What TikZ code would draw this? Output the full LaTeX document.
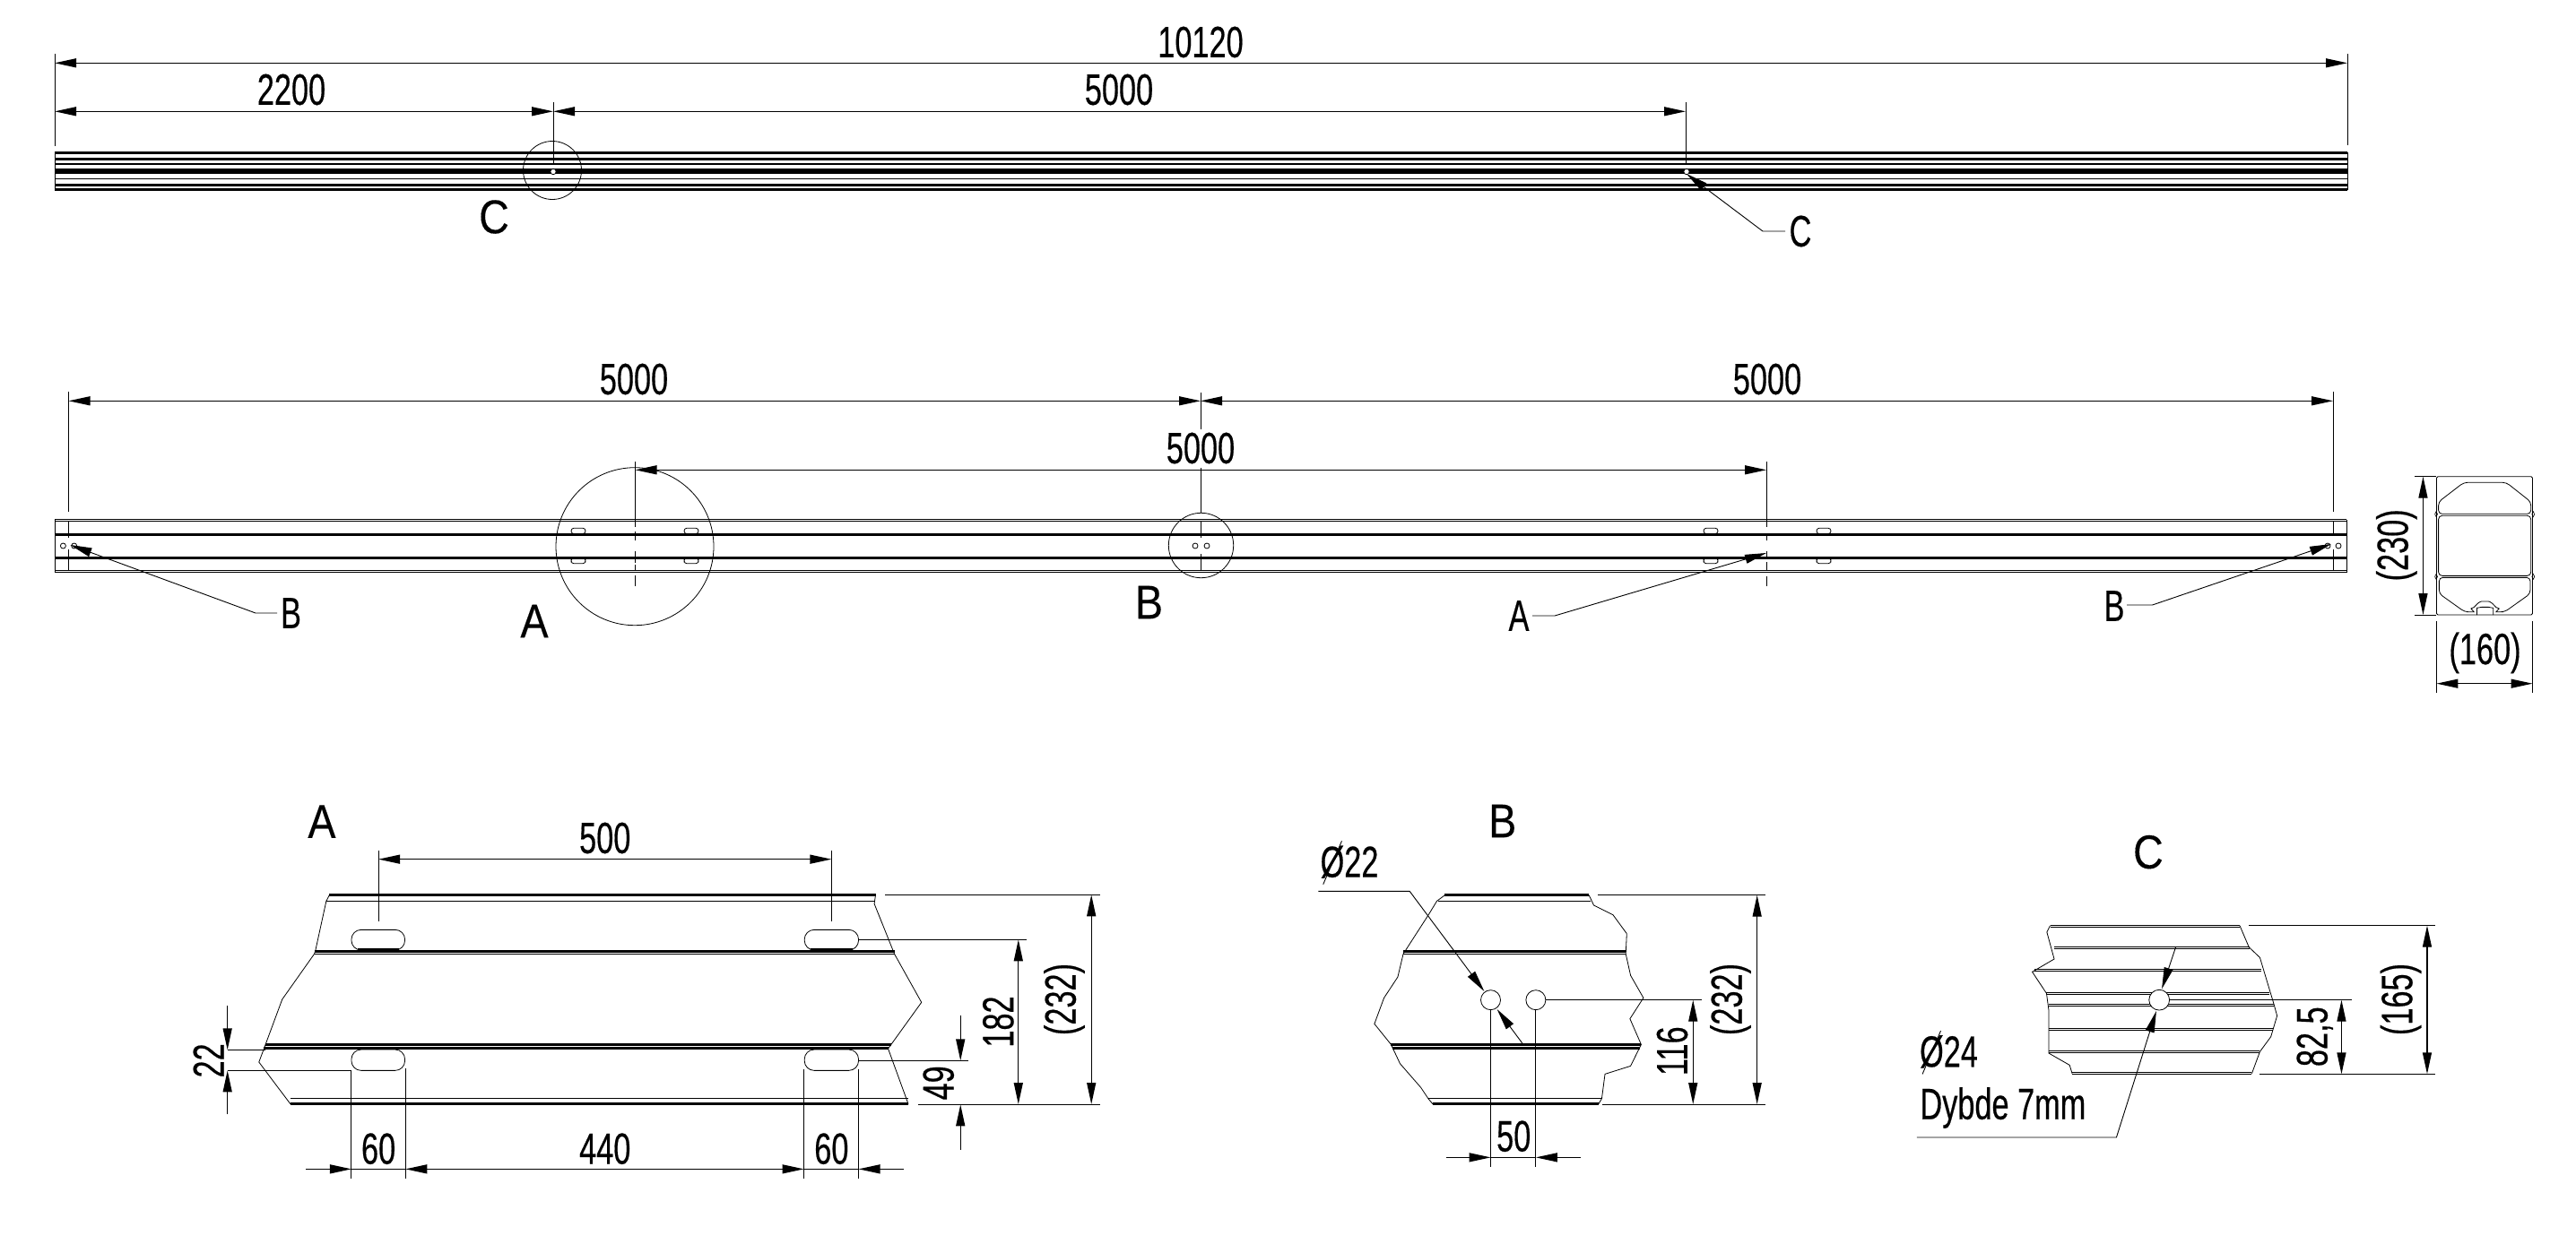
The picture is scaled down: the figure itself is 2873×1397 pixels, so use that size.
\documentclass[tikz,border=0pt]{standalone}
\usepackage{fontspec}
\usetikzlibrary{arrows.meta}
\setmainfont{Liberation Sans}
\newfontfamily\dimf[FakeStretch=0.70,FakeBold=0.35]{Liberation Sans}
\newfontfamily\bigf[FakeStretch=0.88,FakeBold=0.2]{Liberation Sans}
\tikzset{
  >={Triangle[length=12pt,width=5pt]},
  dimln/.style={line width=.65pt},
  extln/.style={line width=.45pt},
  outln/.style={line width=.4pt},
  thickln/.style={line width=1.5pt},
  midln/.style={line width=.7pt},
  dimtxt/.style={font=\dimf\fontsize{24.5}{26}\selectfont,inner sep=0pt,text=black},
  vtxt/.style={dimtxt,rotate=90},
  bigtxt/.style={font=\bigf\fontsize{26.5}{28}\selectfont,inner sep=0pt,text=black},
  holeb/.style={line width=.4pt,fill=white,draw=black},
}
\begin{document}
\begin{tikzpicture}[x=.5pt,y=-.5pt]
\useasboundingbox[fill=white] (0,0) rectangle (2873,1397);
% ---------- top view
\foreach \yy/\ww in {170.7/1.5,177/1.5,183/.6,189.7/1.5,192.7/1.5,199.3/.6,206/1.5,211.7/1.5}
  \draw[line width=\ww pt] (61,\yy) -- (2618,\yy);
\draw[outln] (61,170) -- (61,212) (2618,170) -- (2618,212);
\draw[extln] (61,60) -- (61,163) (2618,60) -- (2618,162);
\draw[dimln,<->] (61,70.3) -- (2618,70.3);
\node[dimtxt] (t10120) at (1339,47) {10120};
\draw[dimln,<->] (61,124.3) -- (617,124.3);
\draw[dimln,<->] (617,124.3) -- (1880,124.3);
\draw[extln] (617,114) -- (617,182) (1880,114) -- (1880,182);
\node[dimtxt] (t2200) at (325,100) {2200};
\node[dimtxt] (t5000a) at (1248,100) {5000};
\draw[outln] (616,190) circle[radius=16.25pt];
\draw[holeb] (617,191.5) circle[radius=1.6pt];
\draw[holeb] (1881,191.5) circle[radius=1.6pt];
\node[bigtxt] (bigC1) at (551,242) {C};
\coordinate (lc1) at (1881,194);
\coordinate (lc2) at (1966,258);
\coordinate (lc3) at (1991,258);
\draw[extln,<-] (lc1) -- (lc2) -- (lc3);
\node[dimtxt] (lblC) at (2008,258) {C};
% ---------- middle view
\foreach \yy/\ww in {579.7/.6,581.6/.6,596/1.5,622/1.5,636.3/.6,638.3/.6}
  \draw[line width=\ww pt] (61,\yy) -- (2617,\yy);
\draw[outln] (61,579.5) -- (61,638.5) (2617,579.5) -- (2617,638.5);
% centre lines
\draw[extln] (76.5,437) -- (76.5,571) (76.5,582) -- (76.5,600) (76.5,613) -- (76.5,636);
\draw[extln] (2602,437) -- (2602,571) (2602,582) -- (2602,597) (2602,613) -- (2602,636);
\draw[extln] (708.5,515) -- (708.5,588) (708.5,593) -- (708.5,603) (708.5,615) -- (708.5,628) (708.5,630) -- (708.5,637) (708.5,642) -- (708.5,654);
\draw[extln] (1970,515) -- (1970,588) (1970,597) -- (1970,603) (1970,615) -- (1970,622) (1970,627) -- (1970,637) (1970,643) -- (1970,654);
\draw[extln] (1339,438) -- (1339,479) (1339,522) -- (1339,572) (1339,582) -- (1339,600) (1339,618) -- (1339,637);
\draw[dimln,<->] (76.5,447.3) -- (1339,447.3);
\draw[dimln,<->] (1339,447.3) -- (2602,447.3);
\draw[dimln,<->] (708.5,524.3) -- (1970,524.3);
\node[dimtxt] (t5000b) at (707,423) {5000};
\node[dimtxt] (t5000c) at (1971,423) {5000};
\node[dimtxt] (t5000d) at (1339,500) {5000};
\draw[outln] (708,609.7) circle[radius=44pt];
\draw[outln] (1339.5,608.5) circle[radius=18.1pt];
\foreach \xx in {645,771,1908,2034}{
  \draw[outln,rounded corners=1.55pt] (\xx-8,589.2) rectangle (\xx+8,595.6);
  \draw[outln,rounded corners=1.55pt] (\xx-8,622.6) rectangle (\xx+8,628.8);
}
\foreach \xx in {70.4,82.7,1333,1346,2596,2608}
  \draw[outln] (\xx,609) circle[radius=1.5pt];
\coordinate (lb1) at (78.4,608);
\coordinate (lb2) at (285,684);
\coordinate (lb3) at (309,684);
\draw[extln,<-] (lb1) -- (lb2) -- (lb3);
\node[dimtxt] (lblB1) at (324.5,684) {B};
\coordinate (la1) at (1970,617);
\coordinate (la2) at (1734,687);
\coordinate (la3) at (1709,687);
\draw[extln,<-] (la1) -- (la2) -- (la3);
\node[dimtxt] (lblA) at (1694,687) {A};
\coordinate (lr1) at (2600,607);
\coordinate (lr2) at (2400.5,675);
\coordinate (lr3) at (2372,675);
\draw[extln,<-] (lr1) -- (lr2) -- (lr3);
\node[dimtxt] (lblB2) at (2358,676) {B};
\node[bigtxt] (bigA1) at (596,693) {A};
\node[bigtxt] (bigB1) at (1281.5,672) {B};
% ---------- section profile (zoom coordinates)
\begin{scope}[shift={(2300,400)},x=.18275pt,y=-.16667pt]
  \draw[outln,rounded corners=.8pt] (1142,395) rectangle (1435,858);
  \draw[outln,rounded corners=2pt] (1148,520) -- (1148,480) -- (1225,415) -- (1355,415) -- (1430,480) -- (1430,520) -- cycle;
  \draw[outln,rounded corners=2pt] (1148,526) rectangle (1430,727);
  \draw[outln,rounded corners=2pt] (1150,733) -- (1150,787) -- (1228,848) -- (1245,848) to[out=0,in=190] (1258,835) to[out=60,in=180] (1290,813) to[out=0,in=120] (1322,835) to[out=-10,in=180] (1335,848) -- (1350,848) -- (1428,787) -- (1428,733) -- cycle;
  \draw[outln] (1265,858) -- (1265,835) -- (1280,832) -- (1300,832) -- (1315,835) -- (1315,858);
  \foreach \xx/\yy in {1141/521,1437/521,1141/730,1437/730}
    \draw[line width=.3pt] (\xx-4,\yy) -- (\xx,\yy-9) -- (\xx+4,\yy) -- (\xx,\yy+9) -- cycle;
  \draw[dimln,<->] (1101,395) -- (1101,858);
  \draw[extln] (1075,395) -- (1142,395) (1075,858) -- (1142,858);
  \node[vtxt] (t230) at (1020,625) {(230)};
  \draw[dimln,<->] (1142,1088) -- (1435,1088);
  \draw[extln] (1142,878) -- (1142,1118) (1435,878) -- (1435,1118);
  \node[dimtxt] (t160) at (1290,985) {(160)};
\end{scope}
% ---------- detail A
\begin{scope}[shift={(180,880)},x=.35088pt,y=-.16667pt]
  \node[bigtxt] (bigA2) at (255,110) {A};
  \draw[thickln] (267,356) -- (1135,356);
  \draw[outln] (262,376) -- (1133,376);
  \draw[thickln] (243,543) -- (1165,543);
  \draw[midln] (243,553) -- (1165,553);
  \draw[thickln] (165,856) -- (1160,856);
  \draw[thickln] (163,869) -- (1155,869);
  \draw[outln] (205,1037) -- (1187,1037);
  \draw[thickln] (205,1055) -- (1187,1055);
  \draw[outln] (267,356) -- (262,376) -- (245,540) -- (243,553) -- (192,705) -- (163,870) -- (155,915) -- (205,1055);
  \draw[outln] (1135,356) -- (1133,385) -- (1165,553) -- (1208,715) -- (1155,870) -- (1187,1055);
  \foreach \xx/\xb in {302/387,1022/1108}{
    \draw[outln,rounded corners=5.4pt] (\xx,472) rectangle (\xb,540);
    \draw[outln,rounded corners=5.4pt] (\xx,873) rectangle (\xb,943);
  }
  \draw[thickln] (312,538) -- (378,538) (1032,538) -- (1098,538);
  \draw[dimln,<->] (345,236) -- (1065,236);
  \draw[extln] (345,207) -- (345,443) (1065,207) -- (1065,443);
  \node[dimtxt] (t500) at (705,165) {500};
  \draw[dimln,<->] (1478,355) -- (1478,1056);
  \draw[extln] (1150,355) -- (1492,355) (1202,1057) -- (1492,1057);
  \node[vtxt] (t232a) at (1435,705) {(232)};
  \draw[dimln,<->] (1362,505) -- (1362,1056);
  \draw[extln] (1108,505) -- (1375,505);
  \node[vtxt] (t182) at (1330,780) {182};
  \draw[dimln,->] (1270,758) -- (1270,910);
  \draw[dimln,->] (1270,1208) -- (1270,1057);
  \draw[extln] (1108,910) -- (1283,910);
  \node[vtxt] (t49) at (1235,985) {49};
  \draw[dimln,->] (105,727) -- (105,874);
  \draw[dimln,->] (105,1090) -- (105,943);
  \draw[extln] (105,874) -- (165,874) (105,943) -- (302,943);
  \node[vtxt] (t22) at (75,910) {22};
  \draw[dimln,->] (230,1273) -- (302,1273);
  \draw[dimln] (302,1273) -- (388,1273);
  \draw[dimln,<->] (388,1273) -- (1021,1273);
  \draw[dimln] (1021,1273) -- (1108,1273);
  \draw[dimln,->] (1180,1273) -- (1108,1273);
  \draw[extln] (302,943) -- (302,1305) (388,935) -- (388,1305) (1021,940) -- (1021,1305) (1108,940) -- (1108,1305);
  \node[dimtxt] (t60a) at (345,1205) {60};
  \node[dimtxt] (t440) at (705,1205) {440};
  \node[dimtxt] (t60b) at (1065,1205) {60};
\end{scope}
% ---------- detail B
\begin{scope}[shift={(1440,880)},x=.17857pt,y=-.16667pt]
  \node[bigtxt] (bigB2) at (660,108) {B};
  \draw[thickln] (480,356) -- (930,356);
  \draw[outln] (460,376) -- (935,376);
  \draw[thickln] (350,543) -- (1045,543);
  \draw[midln] (350,553) -- (1045,553);
  \draw[thickln] (312,856) -- (1093,856);
  \draw[thickln] (316,868) -- (1088,868);
  \draw[outln] (428,1037) -- (970,1037);
  \draw[thickln] (442,1055) -- (960,1055);
  \draw[outln] (480,356) -- (455,376) -- (430,420) -- (350,553) -- (333,630) -- (290,700) -- (260,787) -- (312,856) -- (340,920) -- (405,1000) -- (428,1037) -- (442,1055);
  \draw[outln] (930,356) -- (945,390) -- (1005,422) -- (1048,485) -- (1045,553) -- (1060,625) -- (1100,700) -- (1058,770) -- (1093,856) -- (1060,928) -- (980,955) -- (970,1037) -- (960,1055);
  \draw[outln] (623,707) circle[radius=5.5pt] (764,707) circle[radius=5.5pt];
  \node[dimtxt] (t22d) at (182,245) {Ø22};
  \draw[extln] (100,320) -- (158,175);
  \coordinate (d1a) at (85,343);
  \coordinate (d1b) at (370,343);
  \coordinate (d1c) at (603,678);
  \draw[extln,->] (d1a) -- (d1b) -- (d1c);
  \coordinate (d2a) at (722,852);
  \coordinate (d2b) at (643,738);
  \draw[extln,->] (d2a) -- (d2b);
  \draw[dimln,<->] (1455,356) -- (1455,1056);
  \draw[extln] (958,355) -- (1480,355) (972,1057) -- (1480,1057);
  \node[vtxt] (t232b) at (1372,705) {(232)};
  \draw[dimln,<->] (1255,707) -- (1255,1056);
  \draw[extln] (795,707) -- (1283,707);
  \node[vtxt] (t116) at (1190,878) {116};
  \draw[dimln] (623,1234) -- (764,1234);
  \draw[dimln,->] (483,1234) -- (623,1234);
  \draw[dimln,->] (903,1234) -- (764,1234);
  \draw[extln] (623,738) -- (623,1265) (764,738) -- (764,1265);
  \node[dimtxt] (t50) at (695,1163) {50};
\end{scope}
% ---------- detail C
\begin{scope}[shift={(2100,900)},x=.20408pt,y=-.16667pt]
  \node[bigtxt] (bigC2) at (725,152) {C};
  \foreach \ya/\yb/\xa/\xb in {398/402/457/975,470/475/468/1003,545/550/415/1035,622/627/447/1057,661/667/453/1068,743/747/453/1065,818/823/453/1030,890/895/517/1008}
    \draw[outln] (\xa,\ya) -- (\xb,\ya) (\xa,\yb) -- (\xb,\yb);
  \draw[outln] (457,398) -- (448,420) -- (468,510) -- (408,553) -- (447,625) -- (453,680) -- (453,825) -- (510,865) -- (517,893);
  \draw[outln] (975,398) -- (1000,470) -- (1030,505) -- (1068,660) -- (1077,700) -- (1060,770) -- (1030,820) -- (1008,893);
  \draw[holeb] (755,647) circle[radius=5.7pt];
  \coordinate (c1a) at (800,470);
  \coordinate (c1b) at (762,610);
  \draw[extln,->] (c1a) -- (c1b);
  \coordinate (c2a) at (93,1107);
  \coordinate (c2b) at (638,1107);
  \coordinate (c2c) at (747,684);
  \draw[extln,->] (c2a) -- (c2b) -- (c2c);
  \node[dimtxt] (t24d) at (180,820) {Ø24};
  \draw[extln] (108,895) -- (158,750);
  \node[dimtxt] (tdyb) at (328,1008) {Dybde 7mm};
  \draw[dimln,<->] (1487,398) -- (1487,895);
  \draw[extln] (1000,397) -- (1510,397) (1030,895) -- (1510,895);
  \node[vtxt] (t165) at (1415,645) {(165)};
  \draw[dimln,<->] (1253,647) -- (1253,895);
  \draw[extln] (783,647) -- (1280,647);
  \node[vtxt] (t825) at (1180,770) {82,5};
\end{scope}
\end{tikzpicture}
\end{document}
